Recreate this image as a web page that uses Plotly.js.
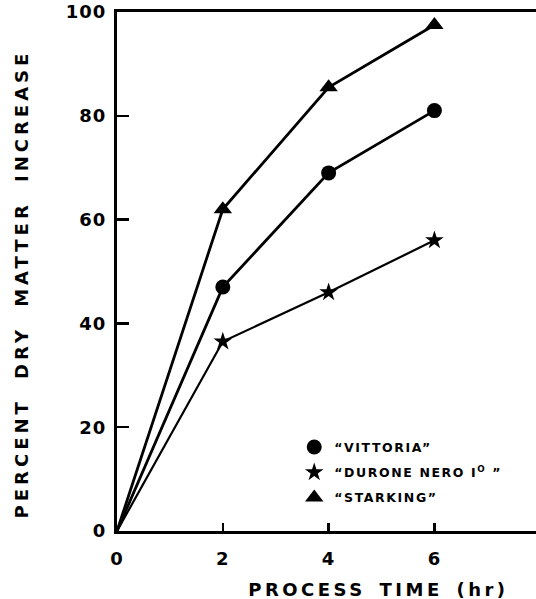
<!DOCTYPE html>
<html>
<head>
<meta charset="utf-8">
<script src="https://cdn.plot.ly/plotly-3.0.1.min.js"></script>
<style>
  html, body { margin: 0; padding: 0; background: #fff; }
  #chart { width: 536px; height: 599px; }
  g.annotation[data-index="0"] text { letter-spacing: 3.5px; word-spacing: 4px; }
  g.annotation[data-index="1"] text { letter-spacing: 4px; word-spacing: 9px; }
  .legendtext { letter-spacing: 1.6px; }
  .xtick text, .ytick text { letter-spacing: 1px; }
</style>
</head>
<body>
<div id="chart"></div>
<script>
// Process time (hr) and percent dry matter increase per cultivar
const hours = [0, 2, 4, 6];
const vittoria = [0, 47, 69, 81];
const durone = [0, 36.5, 46, 56];
const starking = [0, 62, 85.5, 97.5];

const seriesNames = ['\u201CVITTORIA\u201D', '\u201CDURONE NERO I<sup>O</sup> \u201D', '\u201CSTARKING\u201D'];
const xTicks = [0, 2, 4, 6];
const yTicks = [0, 20, 40, 60, 80, 100];

const series = [
  { y: vittoria, symbol: 'circle', size: 15, width: 2.8 },
  { y: durone, symbol: 'star', size: 14, width: 2.2 },
  { y: starking, symbol: 'triangle-up', size: 16, width: 2.8 }
];

const traces = [];
// connecting lines (start at origin)
series.forEach(s => {
  traces.push({
    x: hours, y: s.y, mode: 'lines', showlegend: false,
    line: { color: '#000', width: s.width }, hoverinfo: 'skip'
  });
});
// measured points (no symbol at the origin)
series.forEach((s, i) => {
  traces.push({
    x: hours.slice(1), y: s.y.slice(1), mode: 'markers', name: seriesNames[i],
    legendgroup: 'g' + i,
    marker: { color: '#000', symbol: s.symbol, size: s.size, line: { width: 0 } }
  });
});

const tickFont = { family: 'DejaVu Sans', size: 18, color: '#000', weight: 'bold' };
const titleFont = { family: 'DejaVu Sans', size: 18, color: '#000', weight: 'bold' };

const layout = {
  width: 536, height: 599,
  margin: { l: 117, r: 0, t: 12, b: 68 },
  paper_bgcolor: '#fff', plot_bgcolor: '#fff',
  showlegend: true,
  legend: {
    x: 0.423, y: 0.19, xanchor: 'left', yanchor: 'top',
    bgcolor: 'rgba(0,0,0,0)', borderwidth: 0,
    font: { family: 'DejaVu Sans', size: 12.5, color: '#000', weight: 'bold' },
    traceorder: 'grouped', tracegroupgap: 6, itemwidth: 30
  },
  xaxis: {
    range: [0, 7.92], showgrid: false, zeroline: false,
    showline: true, linecolor: '#000', linewidth: 3, mirror: true,
    ticks: 'inside', ticklen: 8, tickwidth: 2.5, tickcolor: '#000',
    tickvals: xTicks, ticktext: xTicks.map(String),
    tickfont: tickFont, ticklabelstandoff: 9
  },
  yaxis: {
    range: [0, 100], showgrid: false, zeroline: false,
    showline: true, linecolor: '#000', linewidth: 3,
    ticks: 'inside', ticklen: 12, tickwidth: 2.5, tickcolor: '#000',
    tickvals: yTicks, ticktext: yTicks.map(String),
    tickfont: tickFont, ticklabelstandoff: 4
  },
  annotations: [
    {
      text: 'PROCESS TIME (hr)', xref: 'paper', yref: 'paper',
      x: 0.623, y: -0.088, xanchor: 'center', yanchor: 'top',
      showarrow: false, font: titleFont
    },
    {
      text: 'PERCENT DRY MATTER INCREASE', xref: 'paper', yref: 'paper',
      x: -0.228, y: 0.477, xanchor: 'center', yanchor: 'middle', textangle: -90,
      showarrow: false, font: titleFont
    }
  ]
};

Plotly.newPlot('chart', traces, layout, { displayModeBar: false, staticPlot: true });
</script>
</body>
</html>
